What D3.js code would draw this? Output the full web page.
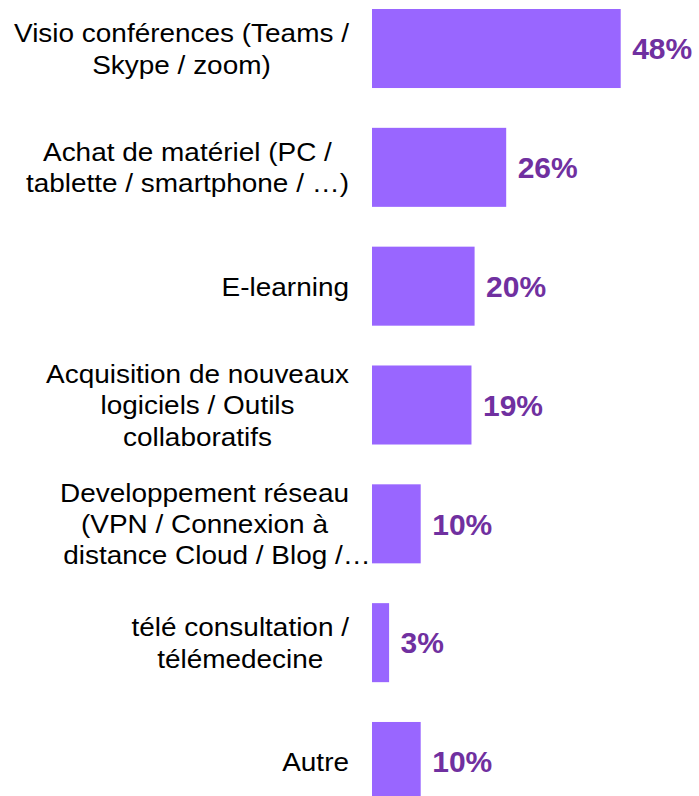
<!DOCTYPE html>
<html>
<head>
<meta charset="utf-8">
<script src="https://cdn.jsdelivr.net/npm/d3@7"></script>
<style>
html,body{margin:0;padding:0;background:#fff;}
svg{display:block;}
</style>
</head>
<body>
<svg id="chart" width="699" height="796"></svg>
<script>
const categories = [
  ["Visio conférences (Teams /", "Skype / zoom)"],
  ["Achat de matériel (PC /", "tablette / smartphone / …)"],
  ["E-learning"],
  ["Acquisition de nouveaux", "logiciels / Outils", "collaboratifs"],
  ["Developpement réseau", "(VPN / Connexion à", "distance Cloud / Blog /…"],
  ["télé consultation /", "télémedecine"],
  ["Autre"]
];
// bar lengths (labels are the rounded percentages)
const values = [48, 25.9, 19.8, 19.2, 9.4, 3.3, 9.4];
const valueLabels = ["48%", "26%", "20%", "19%", "10%", "3%", "10%"];

const svg = d3.select("#chart");
const x = d3.scaleLinear().domain([0, 48]).range([372, 620.7]);
const y = d3.scaleBand().domain(d3.range(categories.length))
  .range([-10.9, 820.9]).paddingInner(0.335).paddingOuter(0.1675);

svg.selectAll("rect.bar").data(values).join("rect")
  .attr("class", "bar")
  .attr("x", x(0))
  .attr("y", (d, i) => y(i))
  .attr("width", d => x(d) - x(0))
  .attr("height", y.bandwidth())
  .attr("fill", "#9966FF");

svg.selectAll("text.val").data(values).join("text")
  .attr("class", "val")
  .attr("x", d => x(d) + 11.5)
  .attr("y", (d, i) => y(i) + y.bandwidth() / 2)
  .attr("dy", "0.36em")
  .attr("font-family", "Liberation Sans, Arial, sans-serif")
  .attr("font-weight", "bold")
  .attr("font-size", 30)
  .attr("fill", "#7030A0")
  .text((d, i) => valueLabels[i]);

const fs = 26, sx = 1.075, lh = 31.3, rightEdge = 349;
const g = svg.append("g");
categories.forEach((lines, i) => {
  const cy = y(i) + y.bandwidth() / 2;
  const items = lines.map((ln, k) => {
    const t = g.append("text")
      .attr("font-family", "Liberation Sans, Arial, sans-serif")
      .attr("font-size", fs)
      .attr("fill", "#000")
      .attr("text-anchor", "middle")
      .attr("dy", "0.36em")
      .text(ln);
    return {t, k, w: t.node().getComputedTextLength() * sx};
  });
  // the last line of the 3-line "Developpement" label overflows its wrap box
  const overflow = (i === 4);
  const core = overflow ? items.slice(0, 2) : items;
  const maxW = d3.max(core, d => d.w);
  const cx = rightEdge - maxW / 2;
  items.forEach(({t, k}) => {
    const lx = (overflow && k === 2) ? cx + 12.5 : cx;
    const ly = cy + (k - (lines.length - 1) / 2) * lh;
    t.attr("transform", `translate(${lx},${ly}) scale(${sx},1)`);
  });
});
</script>
</body>
</html>
